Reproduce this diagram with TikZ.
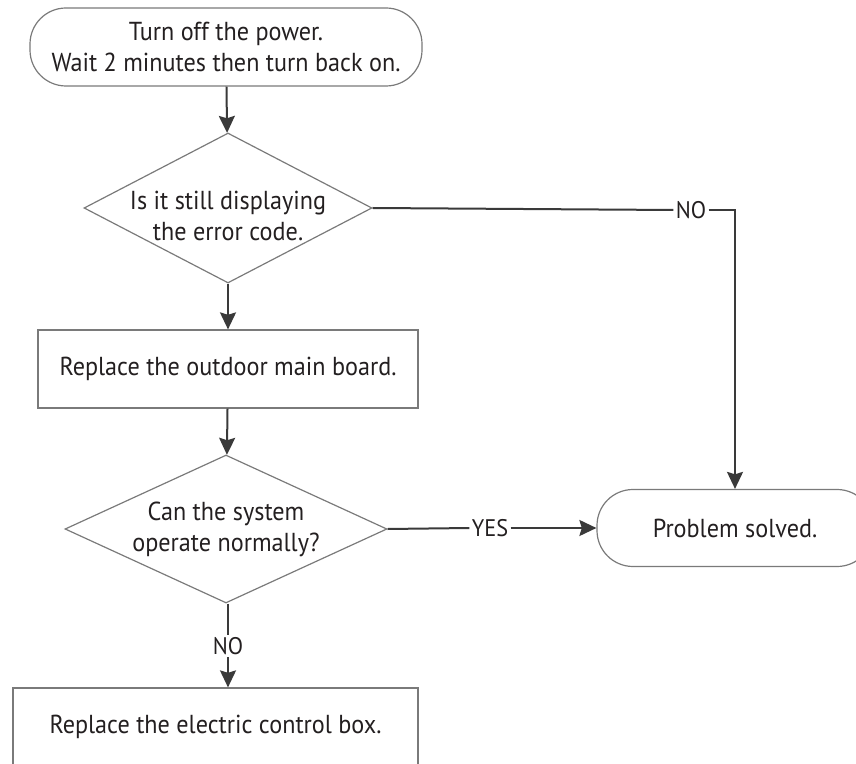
\documentclass[tikz,border=0pt]{standalone}
\usepackage{fontspec}
\setmainfont[FakeStretch=0.93]{PT Sans}
\usepackage{xcolor}
\usepackage{tikz}
\usetikzlibrary{shapes,arrows,positioning,calc,arrows.meta}

\definecolor{boxgray}{HTML}{7A7A7A}
\definecolor{linegray}{HTML}{3A3A3A}
\definecolor{textdark}{HTML}{231F20}

\tikzset{
    terminal/.style={draw=boxgray, line width=0.6pt, rectangle, rounded corners=18pt,
        align=center, inner sep=0pt, font=\fontsize{13}{15.5}\selectfont, text=textdark},
    process/.style={draw=boxgray, line width=0.6pt, rectangle, inner sep=0pt,
        align=center, font=\fontsize{13}{15.5}\selectfont, text=textdark},
    decision/.style={draw=boxgray, line width=0.6pt, diamond, inner ysep=0pt,
        align=center, font=\fontsize{13}{15.5}\selectfont, text=textdark},
    answer/.style={inner sep=1pt, font=\fontsize{12}{14}\selectfont, text=textdark},
    flowline/.style={draw=linegray, line width=1pt},
    flowarrow/.style={flowline, -{Stealth[length=8.5pt,width=8pt,inset=1.2pt]}}
}

\begin{document}
\begin{tikzpicture}[x=0.5pt, y=-0.5pt]
    \useasboundingbox (0,0) rectangle (856,764);
    \clip (0,0) rectangle (856,764);

    % Boxes
    \node[terminal, minimum width=196pt, minimum height=39pt] (power) at (226,47)
        {Turn off the power.\\Wait 2 minutes then turn back on.};
    \node[decision, minimum width=144pt, minimum height=75pt, aspect=1.92, inner sep=0pt,
        label={[align=center, font=\fontsize{13}{15.5}\selectfont, text=textdark,
                yshift=-4pt]center:{Is it still displaying\\the error code.}}] (still) at (228,208) {};
    \node[process, minimum width=190pt, minimum height=39pt] (mainboard) at (228,369)
        {Replace the outdoor main board.};
    \node[decision, minimum width=161pt, minimum height=74pt, aspect=2.18, inner xsep=-6pt] (normal) at (226,529)
        {Can the system\\operate normally?};
    \node[terminal, minimum width=138pt, minimum height=38.5pt] (solved) at (735,528)
        {Problem solved.};
    \node[process, minimum width=202.5pt, minimum height=39pt] (ctrlbox) at (215.5,727)
        {Replace the electric control box.};

    % Answers
    \node[answer] (noa) at (691,210) {NO};
    \node[answer] (yes) at (490,528) {YES};
    \node[answer] (nob) at (228,646) {NO};

    % Connectors
    \draw[flowarrow] (power) -- (still);
    \draw[flowarrow] (still) -- (mainboard);
    \draw[flowarrow] (mainboard) -- (normal);
    \draw[flowline] (still.east) -- (noa.west);
    \draw[flowarrow] (noa.east) -| (solved.north);
    \draw[flowline] (normal.east) -- (yes.west);
    \draw[flowarrow] (yes.east) -- (solved.west);
    \draw[flowline] (normal.south -| nob) -- (nob.north);
    \draw[flowarrow] (nob.south) -- (nob |- ctrlbox.north);
\end{tikzpicture}
\end{document}
